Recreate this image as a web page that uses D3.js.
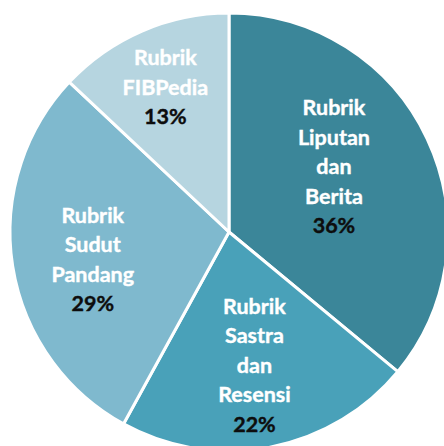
<!DOCTYPE html>
<html lang="id">
<head>
    <meta charset="UTF-8">
    <title>Rubrik</title>
    <style>
        html, body { margin: 0; padding: 0; background: #fff; overflow: hidden; }
        svg { display: block; }
    </style>
</head>
<body>
    <svg id="chart" width="444" height="446"></svg>
    <script src="https://d3js.org/d3.v7.min.js"></script>
    <script>
        // data, clockwise from 12 o'clock
        const categories = ["Rubrik Liputan dan Berita", "Rubrik Sastra dan Resensi", "Rubrik Sudut Pandang", "Rubrik FIBPedia"];
        const labelLines = [["Rubrik", "Liputan", "dan", "Berita"], ["Rubrik", "Sastra", "dan", "Resensi"], ["Rubrik", "Sudut", "Pandang"], ["Rubrik", "FIBPedia"]];
        const values = [36, 22, 29, 13];

        const colors = ["#3b8699", "#49a1b9", "#7fb9ce", "#b6d5e0"];
        const cx = 229, cy = 232, radius = 219;
        const lineHeight = 29.5;
        // where Excel's best fit puts each label (radius as share of R, plus nudge)
        const labelPlace = [
            {r: 0.57, dx: -8, dy: -12},
            {r: 0.62, dx: 0, dy: 0},
            {r: 0.63, dx: 0, dy: 6},
            {r: 0.72, dx: -1, dy: 0}
        ];

        const svg = d3.select("#chart");
        const g = svg.append("g").attr("transform", `translate(${cx},${cy})`);

        const pie = d3.pie().sort(null).value(d => d);
        const arcs = pie(values);
        const arc = d3.arc().innerRadius(0).outerRadius(radius);

        g.selectAll("path.slice")
            .data(arcs)
            .join("path")
            .attr("class", "slice")
            .attr("d", arc)
            .attr("fill", (d, i) => colors[i])
            .attr("stroke", "#fff")
            .attr("stroke-width", 3)
            .attr("stroke-linejoin", "round");

        const labels = g.selectAll("text.lbl")
            .data(arcs)
            .join("text")
            .attr("class", "lbl")
            .attr("text-anchor", "middle")
            .style("font-family", "Lato, 'Open Sans', sans-serif")
            .style("font-weight", 700)
            .style("font-size", "21.5px")
            .attr("transform", (d, i) => {
                const p = labelPlace[i];
                const c = d3.arc().innerRadius(radius * p.r).outerRadius(radius * p.r).centroid(d);
                return `translate(${c[0] + p.dx},${c[1] + p.dy})`;
            });

        labels.each(function (d, i) {
            const lines = labelLines[i].concat([values[i] + "%"]);
            const t = d3.select(this);
            const top = -(lines.length - 1) * lineHeight / 2;
            lines.forEach((ln, k) => {
                t.append("tspan")
                    .attr("x", 0)
                    .attr("y", top + k * lineHeight)
                    .attr("dy", "0.35em")
                    .attr("fill", k === lines.length - 1 ? "#0d0d0d" : "#ffffff")
                    .style("stroke", k === lines.length - 1 ? "#0d0d0d" : "#ffffff")
                    .style("stroke-width", 0.4)
                    .text(ln);
            });
        });
    </script>
</body>
</html>
